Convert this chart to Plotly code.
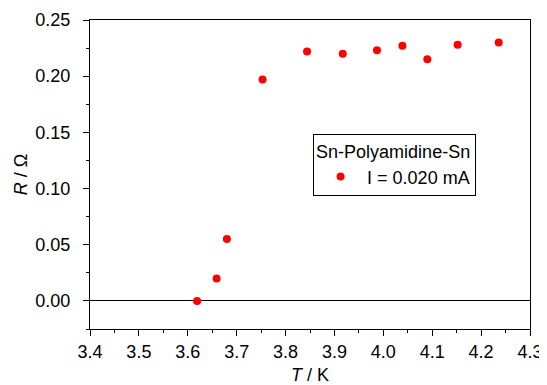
import plotly.graph_objects as go

T_K = [3.619, 3.659, 3.680, 3.753, 3.844, 3.917, 3.987, 4.039, 4.090, 4.152, 4.236]
R_ohm = [0.000, 0.020, 0.055, 0.197, 0.222, 0.220, 0.223, 0.227, 0.215, 0.228, 0.230]
series_name = "I = 0.020 mA"
legend_title = "Sn-Polyamidine-Sn"

FONT = "Liberation Sans, Arial, Helvetica, sans-serif"

fig = go.Figure()
fig.add_trace(go.Scatter(
    x=T_K, y=R_ohm, mode="markers", name=series_name,
    marker=dict(color="#ff0000", size=8, line=dict(width=0)),
))

axis_common = dict(
    showline=True, linecolor="black", linewidth=1, mirror=True,
    showgrid=False, ticks="outside", ticklen=6, tickwidth=1, tickcolor="black",
    tickfont=dict(family=FONT, size=18, color="black"), automargin=False,
)

fig.update_xaxes(
    range=[3.4, 4.3], dtick=0.1, tick0=3.4, tickformat=".1f",
    zeroline=False, ticklabelstandoff=0,
    minor=dict(ticks="outside", ticklen=3, dtick=0.05, tick0=3.4, tickcolor="black", showgrid=False),
    title=dict(text="<i>T</i> / K", font=dict(family=FONT, size=18, color="black"), standoff=10),
    **axis_common,
)
fig.update_yaxes(
    range=[-0.025, 0.25], dtick=0.05, tick0=0, tickformat=".2f",
    zeroline=True, zerolinecolor="black", zerolinewidth=1, ticklabelstandoff=9,
    minor=dict(ticks="outside", ticklen=3, dtick=0.025, tick0=0, tickcolor="black", showgrid=False),
    title=dict(text="<i>R</i> / Ω", font=dict(family=FONT, size=18, color="black"), standoff=3),
    **axis_common,
)

fig.update_layout(
    width=539, height=377,
    margin=dict(l=82, r=17, t=12, b=56),
    paper_bgcolor="white", plot_bgcolor="white",
    font=dict(family=FONT, size=18, color="black"),
    showlegend=True,
    legend=dict(
        x=0.507, y=0.631, xanchor="left", yanchor="top",
        bordercolor="black", borderwidth=1, bgcolor="white",
        title=dict(text=legend_title, font=dict(family=FONT, size=18)),
        font=dict(family=FONT, size=18),
        tracegroupgap=0, itemwidth=43,
    ),
)

fig.write_html("out.html")
